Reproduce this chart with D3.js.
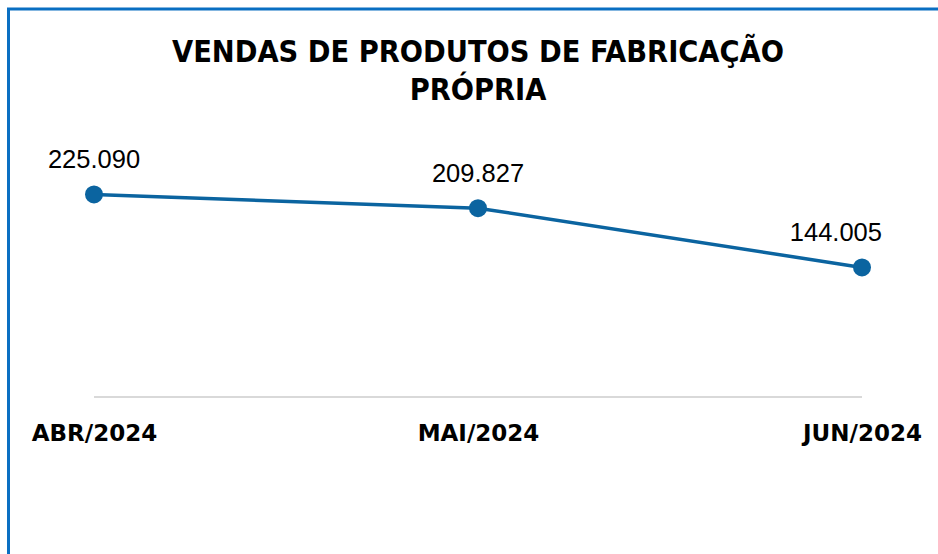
<!DOCTYPE html>
<html lang="pt">
<head>
<meta charset="UTF-8">
<title>Vendas de Produtos de Fabricação Própria</title>
<script src="https://d3js.org/d3.v7.min.js"></script>
<style>
  body { margin: 0; background: #fff; }
  svg { display: block; }
</style>
</head>
<body>
<svg width="938" height="554"></svg>
<script>
  const width = 938, height = 554;

  const months = ["ABR/2024", "MAI/2024", "JUN/2024"];
  const sales = [225090, 209827, 144005];
  const titleLines = ["VENDAS DE PRODUTOS DE FABRICAÇÃO", "PRÓPRIA"];

  const svg = d3.select("svg");

  // frame (top + left blue border)
  svg.append("line").attr("x1", 7).attr("x2", width).attr("y1", 9).attr("y2", 9)
    .attr("stroke", "#0a6fc2").attr("stroke-width", 3);
  svg.append("line").attr("x1", 8.5).attr("x2", 8.5).attr("y1", 8).attr("y2", height)
    .attr("stroke", "#0a6fc2").attr("stroke-width", 3);

  // title
  svg.append("text")
    .attr("x", 478).attr("y", 62)
    .attr("text-anchor", "middle")
    .style("font-family", "'DejaVu Sans Condensed', 'DejaVu Sans', sans-serif")
    .style("font-weight", "bold")
    .style("font-size", "30.4px")
    .selectAll("tspan")
    .data(titleLines)
    .enter().append("tspan")
    .attr("x", 478)
    .attr("dy", (d, i) => i === 0 ? 0 : 38)
    .text(d => d);

  const x = d3.scalePoint().domain(months).range([94, 862]);
  const y = d3.scaleLinear().domain([0, 250000]).range([397, 172]);

  // category axis
  const xAxis = svg.append("g")
    .attr("transform", `translate(0,${y(0)})`)
    .call(d3.axisBottom(x).tickSize(0).tickPadding(28));
  xAxis.select(".domain").attr("stroke", "#d9d9d9").attr("stroke-width", 2)
    .attr("d", `M${x(months[0])},0H${x(months[2])}`);
  xAxis.selectAll("text")
    .style("font-family", "'DejaVu Sans', sans-serif")
    .style("font-weight", "bold")
    .style("font-size", "23px")
    .attr("fill", "#000");

  const data = months.map((m, i) => ({ m, v: sales[i] }));

  svg.append("path")
    .datum(data)
    .attr("fill", "none")
    .attr("stroke", "#0b64a0")
    .attr("stroke-width", 3.5)
    .attr("d", d3.line().x(d => x(d.m)).y(d => y(d.v)));

  svg.selectAll("circle.pt")
    .data(data)
    .enter().append("circle")
    .attr("class", "pt")
    .attr("cx", d => x(d.m))
    .attr("cy", d => y(d.v))
    .attr("r", 9)
    .attr("fill", "#0b64a0");

  // data labels, kept inside the plot's right edge
  const fmt = v => d3.format(",")(v).replace(/,/g, ".");
  const rightEdge = 882;
  svg.selectAll("text.lbl")
    .data(data)
    .enter().append("text")
    .attr("class", "lbl")
    .attr("y", d => y(d.v) - 26)
    .attr("text-anchor", "middle")
    .style("font-family", "'Liberation Sans', Arial, sans-serif")
    .style("font-size", "25.5px")
    .attr("fill", "#000")
    .text(d => fmt(d.v))
    .attr("x", function(d) {
      const w = this.getComputedTextLength();
      return Math.min(x(d.m), rightEdge - w / 2);
    });
</script>
</body>
</html>
